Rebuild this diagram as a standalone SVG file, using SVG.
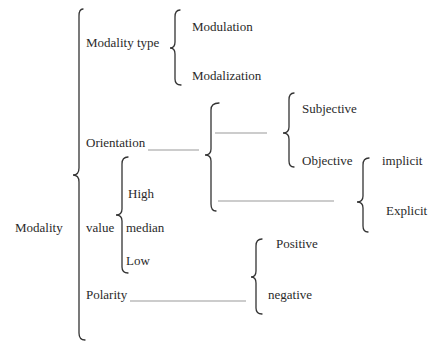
<svg xmlns="http://www.w3.org/2000/svg" width="428" height="343" viewBox="0 0 428 343" font-family="'Liberation Serif', 'DejaVu Serif', serif">
<style>
text{font-family:'Liberation Serif','DejaVu Serif',serif;font-size:13px;fill:#2a2a2a}
.br{fill:none;stroke:#333;stroke-width:1.3;stroke-linecap:round}
.ln{stroke:#9a9a9a;stroke-width:1.1}
</style>
<rect width="428" height="343" fill="#fff"/>
<g id="connectors">
<path class="br" d="M83,9 Q79,9 79,16 L79,168 Q79,175 73,175 Q79,175 79,182 L79,333 Q79,340 85,340"/>
<path class="br" d="M180,10 Q175,10 175,17 L175,42 Q175,48 170,48 Q175,48 175,54 L175,79 Q175,85 181,85"/>
<path class="br" d="M219,103 Q211,103 211,110 L211,149 Q211,155 205,155 Q211,155 211,161 L211,204 Q211,211 216,211"/>
<path class="br" d="M294,93 Q289,93 289,100 L289,127 Q289,133 283,133 Q289,133 289,139 L289,161 Q289,167 294,167"/>
<path class="br" d="M369,158 Q363,158 363,165 L363,196 Q363,202 357,202 Q363,202 363,208 L363,226 Q363,232 368,232"/>
<path class="br" d="M128,157 Q122,157 122,164 L122,209 Q122,215 116,215 Q122,215 122,221 L122,267 Q122,273 128,273"/>
<path class="br" d="M262,239 Q256,239 256,246 L256,271 Q256,277 251,277 Q256,277 256,283 L256,308 Q256,314 262,314"/>
<line class="ln" x1="148" y1="150" x2="199" y2="150"/>
<line class="ln" x1="215" y1="133" x2="267" y2="133"/>
<line class="ln" x1="218" y1="201" x2="334" y2="201"/>
<line class="ln" x1="130" y1="301" x2="246" y2="301"/>
</g>
<g id="modality"><text x="15" y="232">Modality</text></g>
<g id="modality-type"><text x="86" y="47">Modality type</text></g>
<g id="modulation"><text x="192" y="31">Modulation</text></g>
<g id="modalization"><text x="192" y="80">Modalization</text></g>
<g id="orientation"><text x="86" y="147">Orientation</text></g>
<g id="subjective"><text x="302" y="113">Subjective</text></g>
<g id="objective"><text x="302" y="165">Objective</text></g>
<g id="implicit"><text x="382" y="165">implicit</text></g>
<g id="explicit"><text x="386" y="215">Explicit</text></g>
<g id="value"><text x="86" y="232">value</text></g>
<g id="high"><text x="128" y="198">High</text></g>
<g id="median"><text x="126" y="232">median</text></g>
<g id="low"><text x="126" y="265">Low</text></g>
<g id="polarity"><text x="86" y="299">Polarity</text></g>
<g id="positive"><text x="276" y="248">Positive</text></g>
<g id="negative"><text x="268" y="299">negative</text></g>
</svg>
